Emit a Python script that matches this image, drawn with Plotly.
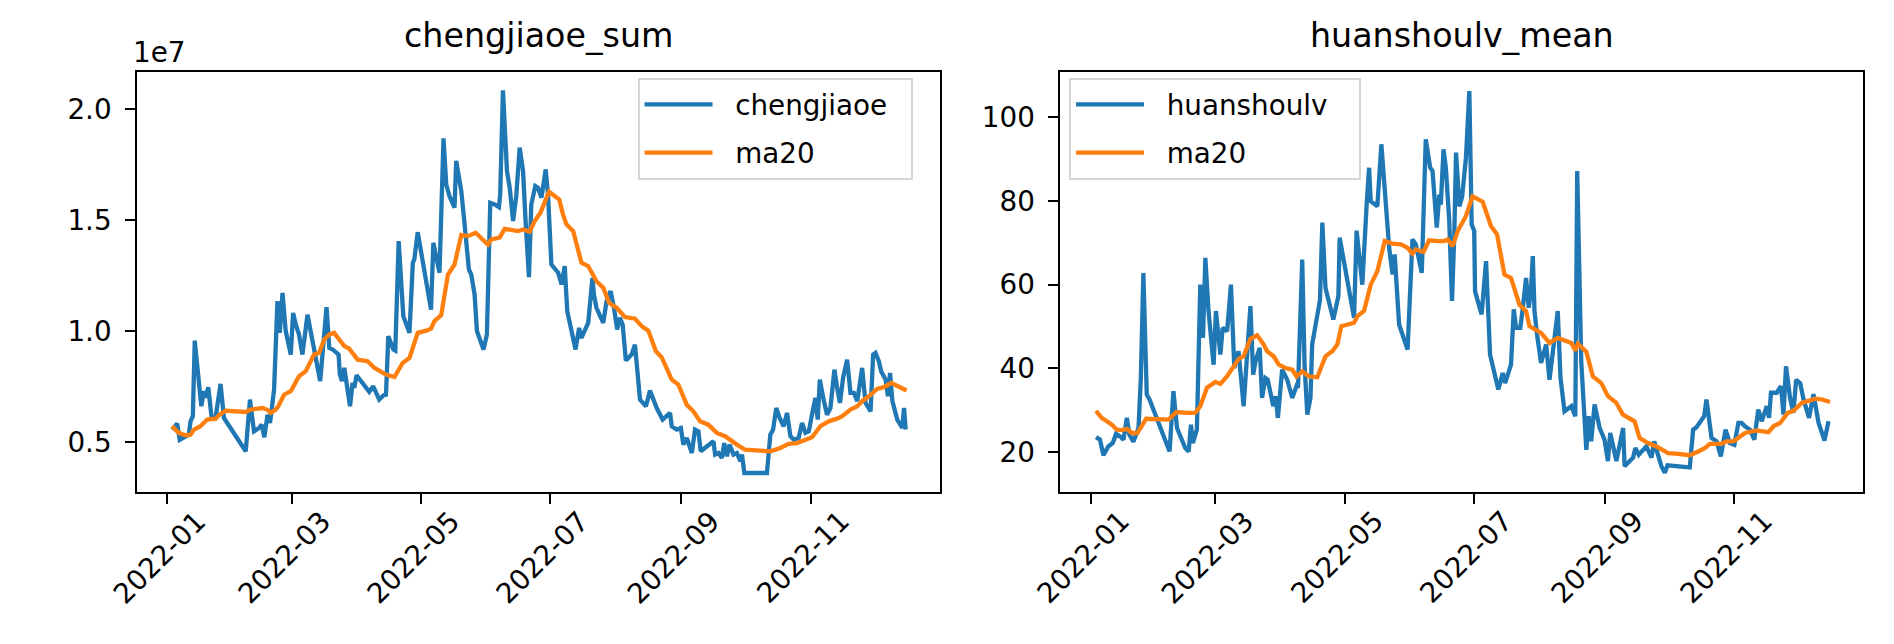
import numpy as np
import pandas as pd
import plotly.graph_objects as go

# ---------------- data ----------------
# x positions are days after 2022-01-01
cj_day = [2.2, 4.6, 5.8, 8.5, 10.1, 10.9, 12.0, 12.9, 14.1, 16.0, 17.2, 18.0, 19.3, 20.9, 22.7, 25.1, 26.7,
          37.0, 39.0, 40.9, 43.3, 44.5, 45.8, 47.3, 48.5, 50.4, 52.0, 53.1, 54.4, 55.9, 58.3, 59.4, 60.7,
          62.2, 63.8, 66.2, 68.6, 72.2, 75.2, 76.5, 78.1, 80.9, 81.5, 82.5, 83.6, 86.3, 87.5, 88.3, 89.4,
          92.3, 95.4, 97.3, 100.1, 102.2, 103.3, 104.4, 106.8, 107.7, 109.3, 111.5, 114.4, 116.0, 116.7,
          118.3, 121.5, 124.6, 125.7, 127.0, 128.6, 130.5, 131.8, 133.3, 135.7, 136.5, 138.9, 140.4, 142.5,
          143.6, 145.2, 146.3, 147.9, 149.4, 151.0, 152.6, 154.7, 156.7, 157.3, 158.6, 160.5, 161.8, 163.4,
          164.9, 166.5, 168.1, 169.3, 170.9, 172.0, 173.9, 175.2, 176.8, 178.8, 179.9, 181.5, 183.1, 184.7,
          186.3, 187.8, 189.0, 192.9, 194.6, 195.7, 198.9, 200.0, 200.9, 201.6, 202.8, 206.0, 207.6, 209.5,
          211.1, 212.6, 213.9, 215.2, 216.7, 219.4, 221.0, 223.4, 226.2, 228.1, 229.7, 231.3, 234.1, 236.0,
          237.6, 238.4, 240.8, 242.7, 243.9, 245.5, 247.9, 249.4, 251.0, 252.1, 254.2, 256.5, 258.1, 258.9,
          260.5, 262.1, 263.2, 264.5, 265.7, 267.6, 269.2, 270.8, 271.6, 272.7, 283.4, 285.0, 286.3, 287.8,
          289.4, 291.3, 292.9, 294.5, 296.1, 298.4, 300.0, 301.6, 303.2, 304.7, 306.3, 307.4, 308.4, 310.0,
          311.8, 313.4, 315.3, 316.6, 317.9, 319.4, 321.3, 322.9, 324.5, 326.1, 328.4, 330.0, 332.4, 333.6,
          334.7, 336.3, 337.4, 339.5, 340.6, 341.6, 342.7, 345.0, 347.4, 348.2, 349.0]
# chengjiaoe in units of 1e7
cj_val = [0.556, 0.583, 0.510, 0.526, 0.533, 0.593, 0.616, 0.957, 0.849, 0.661, 0.729, 0.699, 0.747, 0.608, 0.608, 0.762, 0.608,
          0.458, 0.691, 0.548, 0.563, 0.578, 0.521, 0.623, 0.586, 0.736, 1.135, 0.992, 1.172, 1.000, 0.894, 1.082, 1.029,
          0.984, 0.894, 1.074, 0.954, 0.774, 1.108, 0.924, 0.917, 0.894, 0.804, 0.774, 0.834, 0.661, 0.766, 0.744, 0.801,
          0.766, 0.726, 0.751, 0.691, 0.711, 0.713, 0.977, 0.917, 0.912, 1.406, 1.067, 0.992, 1.308, 1.323,
          1.446, 1.270, 1.097, 1.398, 1.345, 1.263, 1.869, 1.661, 1.609, 1.556, 1.767, 1.631, 1.488, 1.278,
          1.255, 1.165, 1.000, 0.954, 0.917, 0.984, 1.578, 1.571, 1.559, 1.616, 2.085, 1.722, 1.646, 1.496,
          1.609, 1.827, 1.722, 1.496, 1.243, 1.571, 1.654, 1.646, 1.601, 1.729, 1.616, 1.300, 1.278, 1.263,
          1.210, 1.293, 1.090, 0.917, 1.014, 0.969, 1.037, 1.180, 1.240, 1.165, 1.105, 1.037, 1.135, 1.180,
          1.105, 1.007, 1.060, 1.029, 0.867, 0.894, 0.939, 0.691, 0.661, 0.732, 0.691, 0.653, 0.601, 0.616,
          0.631, 0.571, 0.556, 0.563, 0.488, 0.518, 0.450, 0.556, 0.548, 0.458, 0.473, 0.495, 0.503, 0.443,
          0.450, 0.428, 0.495, 0.435, 0.488, 0.443, 0.450, 0.413, 0.443, 0.360, 0.360, 0.533, 0.556, 0.653,
          0.608, 0.571, 0.631, 0.526, 0.510, 0.518, 0.586, 0.541, 0.548, 0.623, 0.699, 0.601, 0.781, 0.699,
          0.623, 0.653, 0.826, 0.744, 0.676, 0.789, 0.871, 0.721, 0.721, 0.684, 0.834, 0.676, 0.638, 0.894,
          0.902, 0.864, 0.819, 0.781, 0.706, 0.811, 0.684, 0.601, 0.563, 0.653, 0.556]

cj_ma_day = [2.2, 5.3, 8.5, 10.9, 12.5, 15.6, 18.8, 22.7, 24.6, 27.5, 37.0, 39.3, 44.9, 47.0, 48.8, 51.2, 52.4,
             55.1, 58.3, 62.2, 65.4, 69.3, 71.7, 74.1, 76.5, 78.8, 81.2, 83.6, 85.9, 89.9, 94.6, 97.8, 100.1,
             103.3, 107.3, 111.2, 114.4, 118.3, 122.3, 124.6, 126.2, 129.4, 132.6, 135.7, 138.9, 142.0, 145.7,
             149.1, 151.5, 153.1, 157.0, 159.4, 162.5, 165.7, 168.1, 171.2, 173.6, 176.3, 180.4, 182.3, 185.2,
             187.0, 188.6, 191.8, 195.7, 198.9, 202.8, 206.0, 208.8, 212.3, 216.3, 221.0, 224.2, 227.3, 230.9,
             233.6, 238.4, 241.5, 245.5, 248.6, 251.8, 255.7, 259.7, 263.6, 267.6, 269.2, 273.1, 278.7, 285.0,
             289.7, 293.7, 297.6, 300.8, 304.7, 308.7, 312.6, 316.6, 319.0, 322.9, 326.1, 328.4, 331.6, 335.5,
             338.7, 342.2, 345.8, 349.4]
cj_ma_val = [0.571, 0.541, 0.530, 0.533, 0.556, 0.571, 0.601, 0.605, 0.623, 0.641, 0.635, 0.646, 0.653, 0.646, 0.631, 0.646, 0.661,
             0.713, 0.729, 0.796, 0.819, 0.894, 0.902, 0.962, 0.984, 0.992, 0.962, 0.932, 0.921, 0.871, 0.864, 0.834, 0.822,
             0.804, 0.793, 0.856, 0.879, 0.992, 1.002, 1.011, 1.045, 1.072, 1.255, 1.300, 1.433, 1.428, 1.443,
             1.413, 1.390, 1.413, 1.421, 1.461, 1.455, 1.451, 1.458, 1.448, 1.496, 1.533, 1.628, 1.616, 1.593,
             1.526, 1.481, 1.451, 1.308, 1.293, 1.225, 1.195, 1.127, 1.105, 1.063, 1.056, 1.022, 1.002, 0.909,
             0.882, 0.781, 0.759, 0.668, 0.638, 0.593, 0.578, 0.541, 0.526, 0.495, 0.488, 0.465, 0.461, 0.458,
             0.473, 0.492, 0.495, 0.506, 0.521, 0.571, 0.593, 0.605, 0.616, 0.646, 0.661, 0.684, 0.706, 0.739,
             0.747, 0.766, 0.751, 0.732]

hs_day = [2.5, 4.4, 6.0, 8.3, 10.4, 12.0, 13.9, 15.5, 17.1, 18.3, 20.2, 22.6, 23.7, 24.9, 26.5, 27.8,
          37.3, 39.1, 40.8, 43.1, 44.7, 46.3, 47.4, 48.3, 50.2, 51.8, 53.1, 54.2, 55.7, 58.1, 59.2, 61.3,
          62.4, 64.5, 66.3, 67.9, 69.9, 72.3, 75.5, 76.8, 77.9, 79.9, 81.0, 82.6, 83.7, 86.3, 87.4, 88.5,
          90.5, 92.9, 95.3, 97.3, 98.0, 100.0, 101.1, 102.4, 103.9, 104.7, 106.3, 108.4, 109.5, 111.0,
          114.7, 117.1, 117.7, 120.5, 122.1, 124.5, 125.7, 127.6, 128.4, 130.5, 131.6, 132.4, 135.5, 137.4,
          139.0, 141.1, 142.7, 143.7, 145.8, 147.9, 149.8, 152.1, 153.7, 156.5, 158.4, 160.5, 161.6, 163.6,
          164.8, 165.5, 166.8, 167.9, 169.5, 170.8, 171.9, 172.7, 174.3, 175.6, 177.4, 179.0, 180.1, 181.3,
          181.7, 184.8, 186.9, 188.8, 192.7, 194.8, 195.9, 198.7, 200.0, 201.1, 203.1, 204.3, 205.8, 207.1,
          208.2, 209.0, 209.8, 211.0, 212.9, 215.3, 216.9, 220.8, 222.1, 224.0, 227.2, 229.1, 230.0, 231.9,
          234.3, 235.4, 236.6, 238.2, 240.6, 242.9, 244.5, 245.6, 248.5, 251.7, 252.4, 256.4, 257.5, 259.1,
          262.7, 265.1, 266.4, 268.2, 269.8, 271.4, 272.7, 283.2, 284.8, 286.4, 290.0, 291.1, 293.5, 295.9,
          297.9, 300.1, 302.2, 304.3, 306.2, 307.7, 309.3, 311.7, 313.7, 315.6, 317.2, 319.6, 320.7, 321.6,
          324.3, 326.3, 327.5, 328.7, 330.6, 332.2, 333.5, 335.4, 337.0, 339.6, 341.7, 344.1, 346.9, 348.8]
hs_val = [23.6, 23.0, 19.3, 21.4, 22.2, 24.4, 23.8, 23.0, 28.2, 24.2, 22.5, 25.8, 37.7, 62.8, 33.8, 32.6,
          20.2, 34.6, 25.8, 23.0, 21.0, 20.2, 26.6, 22.2, 25.4, 60.0, 47.3, 66.4, 53.7, 40.9, 53.7, 43.3,
          49.7, 48.9, 60.0, 40.1, 44.1, 31.0, 54.9, 38.5, 41.7, 44.9, 33.0, 37.7, 37.3, 31.0, 33.4, 28.2,
          39.7, 37.3, 33.0, 35.8, 35.4, 66.0, 40.9, 29.0, 33.0, 45.7, 50.1, 56.4, 74.8, 59.2,
          51.7, 57.3, 71.2, 62.8, 58.4, 52.1, 72.9, 64.0, 60.0, 79.5, 87.9, 79.9, 78.7, 93.5,
          83.9, 68.8, 62.4, 67.2, 50.5, 47.3, 44.5, 70.8, 69.6, 62.8, 94.7, 87.9, 87.1, 73.6,
          81.5, 79.1, 92.3, 87.9, 75.2, 56.1, 72.0, 91.5, 78.7, 81.0, 90.3, 106.2, 74.4, 72.8,
          58.4, 52.9, 65.6, 43.3, 35.0, 38.9, 36.5, 40.9, 54.1, 49.7, 49.7, 54.5, 61.6, 54.5,
          59.2, 66.8, 53.7, 48.1, 41.3, 45.7, 37.3, 53.7, 37.7, 29.8, 31.0, 28.6, 87.1, 41.7,
          20.6, 28.6, 22.6, 31.4, 25.8, 23.0, 17.9, 24.6, 17.9, 25.8, 16.7, 18.7, 21.0, 19.4,
          21.4, 18.7, 22.6, 19.4, 16.7, 15.1, 16.9, 16.4, 25.4, 26.0, 28.6, 32.6, 23.4, 22.6,
          19.0, 25.4, 22.2, 21.8, 27.0, 27.0, 26.2, 25.4, 23.0, 30.2, 27.4, 31.0, 28.2, 34.2,
          34.2, 35.8, 29.0, 40.5, 33.0, 29.4, 37.3, 36.5, 32.6, 28.2, 33.9, 27.0, 22.8, 27.4]

hs_ma_day = [2.5, 5.2, 7.6, 10.0, 12.3, 14.7, 17.1, 19.4, 22.1, 24.1, 26.2, 36.8, 40.5, 45.5, 49.4, 51.8,
             55.0, 58.9, 61.3, 64.4, 67.3, 70.0, 72.3, 75.5, 78.7, 81.8, 83.4, 86.5, 88.9, 92.1, 95.3, 97.3,
             100.0, 103.1, 107.1, 111.0, 114.2, 116.6, 118.5, 122.9, 124.5, 126.1, 129.2, 132.4, 135.5, 139.0,
             142.7, 146.6, 149.8, 152.1, 153.7, 157.3, 160.0, 164.0, 167.1, 168.7, 171.1, 173.5, 177.4, 180.5,
             185.3, 189.2, 192.1, 195.6, 198.7, 202.7, 205.8, 207.4, 212.9, 216.9, 220.8, 227.2, 229.1, 230.3,
             234.3, 237.4, 241.4, 244.5, 248.5, 251.6, 257.1, 259.5, 263.5, 267.4, 271.7, 273.0, 277.7, 283.2,
             287.2, 290.3, 292.7, 298.2, 300.6, 303.8, 306.1, 309.3, 314.8, 320.4, 322.8, 325.9, 329.5, 332.2,
             336.2, 339.3, 342.5, 345.6, 349.5]
hs_ma_val = [29.9, 28.2, 27.4, 26.6, 25.4, 25.3, 25.6, 24.6, 24.6, 26.2, 28.0, 27.8, 29.6, 29.4, 29.4, 31.0,
             35.4, 36.8, 36.3, 38.1, 40.3, 42.3, 42.9, 47.1, 47.9, 45.7, 44.1, 42.9, 40.9, 40.1, 39.7, 38.1,
             39.3, 38.1, 37.9, 42.9, 44.1, 45.7, 50.1, 50.5, 50.9, 52.5, 53.7, 60.0, 63.2, 70.4,
             69.8, 69.6, 68.8, 67.4, 68.4, 67.8, 70.6, 70.4, 70.4, 70.8, 69.2, 72.8, 76.4, 81.1,
             79.8, 74.0, 72.0, 62.4, 61.6, 55.2, 53.7, 50.1, 48.5, 46.1, 47.3, 46.1, 44.3, 45.9,
             44.0, 38.1, 36.5, 33.4, 31.8, 29.0, 27.4, 23.4, 22.2, 21.4, 20.2, 19.8, 19.6, 19.3,
             20.2, 21.0, 22.0, 22.0, 22.6, 22.6, 23.4, 24.6, 25.2, 24.8, 26.2, 27.0, 29.4, 29.9,
             31.8, 32.2, 32.8, 32.6, 32.0]

x_tick_dates = ["2022-01-01", "2022-03-01", "2022-05-01", "2022-07-01", "2022-09-01", "2022-11-01"]
x_tick_text = ["2022-01", "2022-03", "2022-05", "2022-07", "2022-09", "2022-11"]
cj_tick_vals = [0.5, 1.0, 1.5, 2.0]
cj_tick_text = ["0.5", "1.0", "1.5", "2.0"]
hs_tick_vals = [20, 40, 60, 80, 100]

# ---------------- build ----------------
BASE = pd.Timestamp("2022-01-01")


def to_dates(days):
    return BASE + pd.to_timedelta(np.asarray(days, dtype=float), unit="D")


BLUE = "#1f77b4"
ORANGE = "#ff7f0e"
FONT = "DejaVu Sans"
TICK_PX = 27.8
XTICK_PX = 27.8
TITLE_PX = 33.3
LW = 4.3
NB = "\u00a0"

fig = go.Figure()
fig.add_trace(go.Scatter(x=to_dates(cj_day), y=cj_val, mode="lines", name=NB * 2 + "chengjiaoe" + NB * 2,
                         line=dict(color=BLUE, width=LW), xaxis="x", yaxis="y",
                         legend="legend", legendgroup="a"))
fig.add_trace(go.Scatter(x=to_dates(cj_ma_day), y=cj_ma_val, mode="lines", name=NB * 2 + "ma20",
                         line=dict(color=ORANGE, width=LW), xaxis="x", yaxis="y",
                         legend="legend", legendgroup="b"))
fig.add_trace(go.Scatter(x=to_dates(hs_day), y=hs_val, mode="lines", name=NB * 2 + "huanshoulv" + NB * 3,
                         line=dict(color=BLUE, width=LW), xaxis="x2", yaxis="y2",
                         legend="legend2", legendgroup="c"))
fig.add_trace(go.Scatter(x=to_dates(hs_ma_day), y=hs_ma_val, mode="lines", name=NB * 2 + "ma20",
                         line=dict(color=ORANGE, width=LW), xaxis="x2", yaxis="y2",
                         legend="legend2", legendgroup="d"))

x_range = [BASE + pd.Timedelta(days=-14.4), BASE + pd.Timedelta(days=365.1)]

axis_common = dict(showline=True, linecolor="black", linewidth=2.2, mirror=True,
                   ticks="outside", ticklen=9.7, tickwidth=2.2, tickcolor="black",
                   showgrid=False, zeroline=False,
                   tickfont=dict(family=FONT, size=TICK_PX, color="black"))

# x tick labels are drawn as rotated text centred under each tick (matplotlib style)
xaxis_common = dict(axis_common, type="date", range=x_range,
                    tickmode="array", tickvals=x_tick_dates, ticktext=x_tick_text,
                    showticklabels=False)

legend_common = dict(font=dict(family=FONT, size=TICK_PX, color="black"),
                     bgcolor="rgba(255,255,255,0.8)", bordercolor="#d5d5d5", borderwidth=2,
                     xanchor="left", yanchor="top", tracegroupgap=9, itemwidth=68)

annotations = [
    dict(text="chengjiaoe_sum", xref="x domain", yref="y domain", x=0.5, y=1,
         xanchor="center", yanchor="bottom", yshift=15, showarrow=False,
         font=dict(family=FONT, size=TITLE_PX, color="black")),
    dict(text="huanshoulv_mean", xref="x2 domain", yref="y2 domain", x=0.5, y=1,
         xanchor="center", yanchor="bottom", yshift=15, showarrow=False,
         font=dict(family=FONT, size=TITLE_PX, color="black")),
    dict(text="1e7", xref="x domain", yref="y domain", x=0, y=1,
         xanchor="left", yanchor="bottom", yshift=1, xshift=-6, showarrow=False,
         font=dict(family=FONT, size=TICK_PX, color="black")),
]
for xa, ya in (("x", "y domain"), ("x2", "y2 domain")):
    for d, t in zip(x_tick_dates, x_tick_text):
        annotations.append(dict(text=t, xref=xa, yref=ya, x=d, y=0,
                                xanchor="center", yanchor="top", yshift=-11, xshift=-8,
                                textangle=-45, showarrow=False, borderpad=0,
                                font=dict(family=FONT, size=XTICK_PX, color="black")))

fig.update_layout(
    width=1894, height=644,
    margin=dict(l=129, r=39, t=64, b=160),
    plot_bgcolor="white", paper_bgcolor="white",
    font=dict(family=FONT, color="black"),
    xaxis=dict(xaxis_common, domain=[0, 0.4651], anchor="y"),
    yaxis=dict(axis_common, range=[0.2744, 2.168], tickmode="array",
               tickvals=cj_tick_vals, ticktext=cj_tick_text, ticklabelstandoff=8, anchor="x"),
    xaxis2=dict(xaxis_common, domain=[0.5349, 1], anchor="y2"),
    yaxis2=dict(axis_common, range=[10.52, 110.75], tickmode="array",
                tickvals=hs_tick_vals, ticklabelstandoff=8, anchor="x2"),
    legend=dict(legend_common, x=0.290, y=0.986),
    legend2=dict(legend_common, x=0.540, y=0.986),
    showlegend=True,
    annotations=annotations,
)

fig.write_html("out.html")
